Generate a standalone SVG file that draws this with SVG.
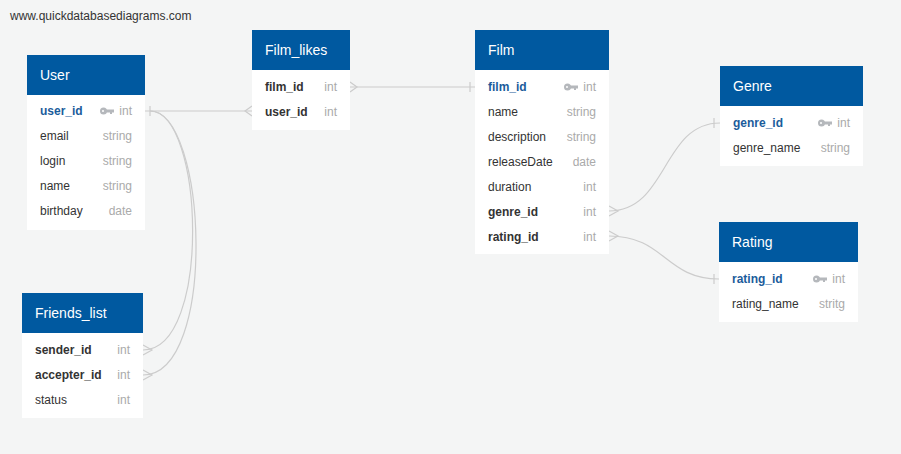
<svg xmlns="http://www.w3.org/2000/svg" width="901" height="454" viewBox="0 0 901 454">
<style>
text{font-family:"Liberation Sans",Arial,sans-serif;}
.hd{fill:#0059a0;}
.bd{fill:#ffffff;}
.ht{fill:#ffffff;font-size:14px;}
.f{fill:#333333;font-size:12px;}
.fk{fill:#333333;font-size:12px;font-weight:bold;}
.pk{fill:#1b5c9b;font-size:12px;font-weight:bold;}
.t{fill:#aaaaaa;font-size:12px;text-anchor:end;}
.c{fill:none;stroke:#cccccc;stroke-width:1.2;}
.key{fill:#b5b8bc;}
</style>
<defs>
<g id="keyicon">
<circle cx="3.5" cy="0" r="3.5" class="key"/>
<rect x="5" y="-1.5" width="9" height="3" class="key"/>
<rect x="10" y="0" width="2" height="3" class="key"/>
<circle cx="3" cy="0" r="1" fill="#ffffff"/>
</g>
</defs>
<rect x="0" y="0" width="901" height="454" fill="#f4f5f5"/>
<text x="10" y="20" style="font-size:12px;fill:#333">www.quickdatabasediagrams.com</text>

<g id="connectors">
<!-- User.user_id - Film_likes.user_id -->
<path class="c" d="M145,111 L252,111"/>
<path class="c" d="M150,106 L150,116"/>
<path class="c" d="M252,106 L245,111 L252,116"/>
<!-- Film_likes.film_id - Film.film_id -->
<path class="c" d="M350,87 L475,87"/>
<path class="c" d="M350,82 L357,87 L350,92"/>
<path class="c" d="M470,82 L470,92"/>
<!-- User.user_id - Friends_list.sender_id -->
<path class="c" d="M150,111 C204,111 212,350 143,350"/>
<path class="c" d="M143,345 L152,350 L143,355"/>
<!-- User.user_id - Friends_list.accepter_id -->
<path class="c" d="M150,111 C207,111 218,375 143,375"/>
<path class="c" d="M143,370 L152,375 L143,380"/>
<!-- Film.genre_id - Genre.genre_id -->
<path class="c" d="M609,211 C668,211 662,123 720,123"/>
<path class="c" d="M609,206 L618,211 L609,216"/>
<path class="c" d="M714,118 L714,128"/>
<!-- Film.rating_id - Rating.rating_id -->
<path class="c" d="M609,236 C665,236 665,279 719,279"/>
<path class="c" d="M609,231 L618,236 L609,241"/>
<path class="c" d="M714,274 L714,284"/>
</g>

<g id="User">
<rect class="bd" x="27" y="55" width="118" height="175"/>
<rect class="hd" x="27" y="55" width="118" height="40"/>
<text class="ht" x="40" y="80">User</text>
<text class="pk" x="40" y="115">user_id</text>
<use href="#keyicon" x="100" y="111"/>
<text class="t" x="132" y="115">int</text>
<text class="f" x="40" y="140">email</text><text class="t" x="132" y="140">string</text>
<text class="f" x="40" y="165">login</text><text class="t" x="132" y="165">string</text>
<text class="f" x="40" y="190">name</text><text class="t" x="132" y="190">string</text>
<text class="f" x="40" y="215">birthday</text><text class="t" x="132" y="215">date</text>
</g>

<g id="Film_likes">
<rect class="bd" x="252" y="30" width="98" height="100"/>
<rect class="hd" x="252" y="30" width="98" height="40"/>
<text class="ht" x="265" y="55">Film_likes</text>
<text class="fk" x="265" y="91">film_id</text><text class="t" x="337" y="91">int</text>
<text class="fk" x="265" y="116">user_id</text><text class="t" x="337" y="116">int</text>
</g>

<g id="Film">
<rect class="bd" x="475" y="30" width="134" height="224"/>
<rect class="hd" x="475" y="30" width="134" height="40"/>
<text class="ht" x="488" y="55">Film</text>
<text class="pk" x="488" y="91">film_id</text>
<use href="#keyicon" x="564" y="87"/>
<text class="t" x="596" y="91">int</text>
<text class="f" x="488" y="116">name</text><text class="t" x="596" y="116">string</text>
<text class="f" x="488" y="141">description</text><text class="t" x="596" y="141">string</text>
<text class="f" x="488" y="166">releaseDate</text><text class="t" x="596" y="166">date</text>
<text class="f" x="488" y="191">duration</text><text class="t" x="596" y="191">int</text>
<text class="fk" x="488" y="216">genre_id</text><text class="t" x="596" y="216">int</text>
<text class="fk" x="488" y="241">rating_id</text><text class="t" x="596" y="241">int</text>
</g>

<g id="Genre">
<rect class="bd" x="720" y="66" width="143" height="100"/>
<rect class="hd" x="720" y="66" width="143" height="40"/>
<text class="ht" x="733" y="91">Genre</text>
<text class="pk" x="733" y="127">genre_id</text>
<use href="#keyicon" x="818" y="123"/>
<text class="t" x="850" y="127">int</text>
<text class="f" x="733" y="152">genre_name</text><text class="t" x="850" y="152">string</text>
</g>

<g id="Rating">
<rect class="bd" x="719" y="222" width="139" height="100"/>
<rect class="hd" x="719" y="222" width="139" height="40"/>
<text class="ht" x="732" y="247">Rating</text>
<text class="pk" x="732" y="283">rating_id</text>
<use href="#keyicon" x="813" y="279"/>
<text class="t" x="845" y="283">int</text>
<text class="f" x="732" y="308">rating_name</text><text class="t" x="845" y="308">stritg</text>
</g>

<g id="Friends_list">
<rect class="bd" x="22" y="293" width="121" height="125"/>
<rect class="hd" x="22" y="293" width="121" height="40"/>
<text class="ht" x="35" y="318">Friends_list</text>
<text class="fk" x="35" y="354">sender_id</text><text class="t" x="130" y="354">int</text>
<text class="fk" x="35" y="379">accepter_id</text><text class="t" x="130" y="379">int</text>
<text class="f" x="35" y="404">status</text><text class="t" x="130" y="404">int</text>
</g>
</svg>
